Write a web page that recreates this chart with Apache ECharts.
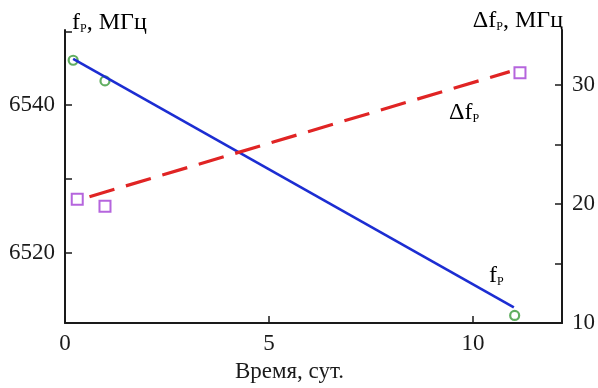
<!DOCTYPE html>
<html lang="ru">
<head>
    <meta charset="UTF-8">
    <title>fP vs time</title>
    <script src="https://cdn.jsdelivr.net/npm/echarts@6/dist/echarts.min.js"></script>
</head>
<body style="margin:0;">
<div id="main" style="width:598px;height:388px;"></div>
<script type="text/javascript">

    // fP, MHz (left axis)
    const fpPoints = [[0.2, 6546.1], [0.98, 6543.3], [11.02, 6511.5]];
    const fpLine = [[0.2, 6546.3], [11.0, 6512.6]];
    // delta fP, MHz (right axis)
    const dfPoints = [[0.3, 20.4], [0.98, 19.8], [11.15, 31.0]];
    const dfLine = [[0.6, 20.6], [10.9, 31.1]];

    const xTicks = [0, 5, 10];
    const leftTicks = [6520, 6530, 6540, 6550];
    const leftLabels = [6520, 6540];
    const rightTicks = [15, 20, 25, 30];
    const rightLabels = [10, 20, 30];

    const serif = 'Liberation Serif';
    const txt = '#1a1a1a';
    const sub = {fontSize: 12, fontFamily: serif, color: txt, padding: [11, 0, 0, 0]};
    const big = {fontSize: 24, fontFamily: serif, color: txt};
    const plain = v => String(v);

    let myChart = echarts.init(document.getElementById('main'));
    const option = {
        animation: false,
        grid: {left: 65, right: 35, top: 30, bottom: 58},
        xAxis: {
            type: 'value', min: 0, max: 12.18,
            axisLine: {lineStyle: {color: txt, width: 2}},
            axisTick: {inside: true, length: 7, customValues: xTicks, lineStyle: {color: txt, width: 1.5}},
            axisLabel: {customValues: xTicks, formatter: plain, margin: 9, fontSize: 23, fontFamily: serif, color: txt},
            splitLine: {show: false},
            name: 'Время, сут.', nameLocation: 'middle', nameGap: 34,
            nameTextStyle: {fontSize: 23, fontFamily: serif, color: txt, padding: [0, 48, 0, 0]}
        },
        yAxis: [{
            type: 'value', min: 6510.46, max: 6550.2,
            axisLine: {show: true, lineStyle: {color: txt, width: 2}},
            axisTick: {show: true, inside: true, length: 7, customValues: leftTicks, lineStyle: {color: txt, width: 1.5}},
            axisLabel: {customValues: leftLabels, formatter: plain, margin: 10, fontSize: 23, fontFamily: serif, color: txt},
            splitLine: {show: false}
        }, {
            type: 'value', min: 10, max: 34.59, position: 'right',
            axisLine: {show: true, lineStyle: {color: txt, width: 2}},
            axisTick: {show: true, inside: true, length: 7, customValues: rightTicks, lineStyle: {color: txt, width: 1.5}},
            axisLabel: {customValues: rightLabels, formatter: plain, margin: 10, fontSize: 23, fontFamily: serif, color: txt},
            splitLine: {show: false}
        }],
        graphic: [
            {type: 'text', left: 72, top: 11, style: {text: '{b|f}{s|P}{b|, МГц}', rich: {b: big, s: sub}}},
            {type: 'text', right: 35, top: 9, style: {text: '{b|Δf}{s|P}{b|, МГц}', rich: {b: big, s: sub}}},
            {type: 'text', left: 449, top: 101, style: {text: '{b|Δf}{s|P}', rich: {b: big, s: sub}}},
            {type: 'text', left: 489, top: 264, style: {text: '{b|f}{s|P}', rich: {b: big, s: sub}}}
        ],
        series: [{
            name: 'fP line', type: 'line', data: fpLine, showSymbol: false,
            lineStyle: {color: '#1c2dd2', width: 2.6}
        }, {
            name: 'fP', type: 'scatter', data: fpPoints, symbol: 'circle', symbolSize: 9,
            itemStyle: {color: '#fff', borderColor: '#3a9a3a', borderWidth: 2.2}
        }, {
            name: 'dfP line', type: 'line', yAxisIndex: 1, data: dfLine, showSymbol: false,
            lineStyle: {color: '#e02424', width: 3.2, type: [26, 12]}
        }, {
            name: 'dfP', type: 'scatter', yAxisIndex: 1, data: dfPoints, symbol: 'rect', symbolSize: 11,
            itemStyle: {color: '#fff', borderColor: '#a23fd4', borderWidth: 2}
        }]
    };
    myChart.setOption(option);
</script>
</body>
</html>
